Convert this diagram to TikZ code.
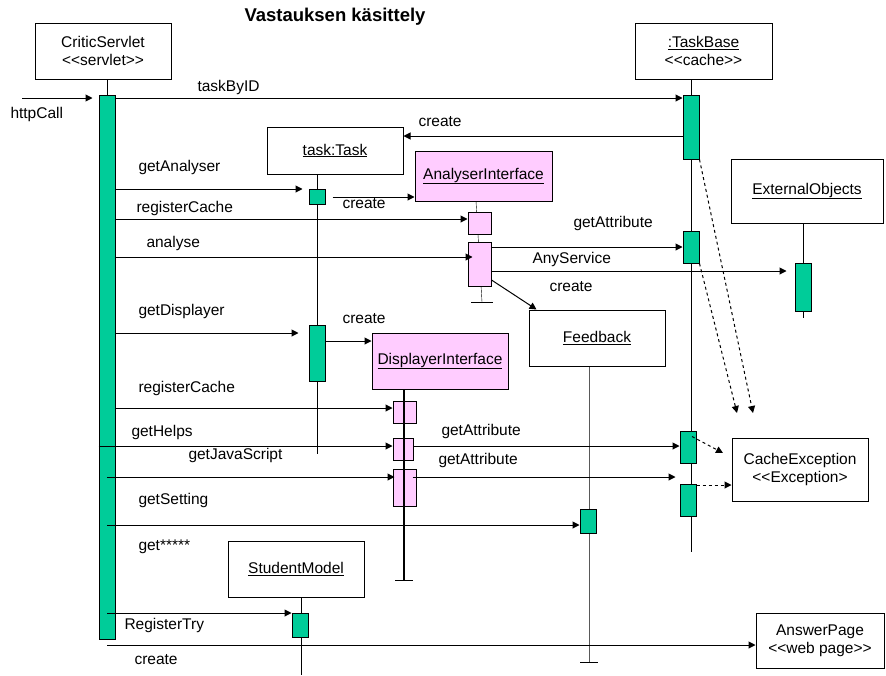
\documentclass[tikz,border=0pt]{standalone}
\usepackage{fontspec}
\setmainfont{Liberation Sans}
\usetikzlibrary{arrows.meta}
\usetikzlibrary{positioning}
\usetikzlibrary{backgrounds}
\definecolor{actgreen}{RGB}{0,204,153}
\definecolor{ifacepink}{RGB}{255,204,255}
\newcommand{\ltch}{\mbox{<}}
\newcommand{\gtch}{\mbox{>}}

\begin{document}
\begin{tikzpicture}[x=1pt, y=-1pt, line width=1pt,
  every node/.style={font=\fontsize{15.5}{18}\selectfont},
  obj/.style={draw, fill=white, align=center, inner sep=0pt, minimum width=136pt, minimum height=56pt},
  iface/.style={obj, fill=ifacepink},
  act/.style={draw, fill=actgreen, inner sep=0pt, minimum width=16pt},
  iact/.style={draw, fill=ifacepink, inner sep=0pt, minimum width=23pt},
  msg/.style={-{Triangle[length=7pt,width=7pt]}},
  ret/.style={msg, dash pattern=on 3pt off 3pt},
  lbl/.style={anchor=base west, inner sep=0pt}]
  \useasboundingbox (0,0) rectangle (886,675);

  % title
  \node[font=\fontsize{18.5}{20}\selectfont\bfseries] (title) at (335,17) {Vastauksen käsittely};

  % objects
  \node[obj] (cs) at (103,51) {CriticServlet\\\ltch\ltch servlet\gtch\gtch};
  \node[obj, minimum width=137pt] (tb) at (703.5,51) {\underline{:TaskBase}\\\ltch\ltch cache\gtch\gtch};
  \node[obj, minimum height=47pt] (task) at (335,150.5) {\underline{task:Task}};
  \node[iface, minimum width=137pt, minimum height=50pt] (ai) at (483.5,176) {\underline{AnalyserInterface}};
  \node[obj, minimum width=152pt, minimum height=64pt] (eo) at (807,191) {\underline{ExternalObjects}};
  \node[obj] (fb) at (597,338) {\underline{Feedback}};
  \node[iface] (di) at (440,361) {\underline{DisplayerInterface}};
  \node[obj] (sm) at (296,569) {\underline{StudentModel}};
  \node[obj, minimum width=128pt, minimum height=55pt] (ap) at (820,640.5) {AnswerPage\\\ltch\ltch web page\gtch\gtch};
  \node[obj, minimum height=63pt] (ce) at (800,469.5) {CacheException\\\ltch\ltch Exception\gtch};

  % activations
  \node[act, minimum height=544pt] (csbar) at (107,367) {};
  \node[act, minimum height=64pt] (tb1) at (691,127) {};
  \node[act, minimum height=32pt] (tb2) at (691,247) {};
  \node[act, minimum height=32pt] (tb3) at (688,447) {};
  \node[act, minimum height=32pt] (tb4) at (688,500) {};
  \node[act, minimum height=15pt] (tt1) at (317,196.5) {};
  \node[act, minimum height=56pt] (tt2) at (317,353) {};
  \node[iact, minimum height=22pt] (ai1) at (479.5,223) {};
  \node[iact, minimum height=44pt] (ai2) at (479.5,264) {};
  \node[act, minimum height=48pt] (eo1) at (803,287) {};
  \node[act, minimum height=24pt] (fb1) at (588,521) {};
  \node[iact, minimum height=22pt] (di1) at (404.5,412) {};
  \node[iact, minimum height=22pt, minimum width=20pt] (di2) at (403,449) {};
  \node[iact, minimum height=37pt] (di3) at (404.5,487.5) {};
  \node[act, minimum height=24pt] (sm1) at (300,625) {};

  % lifeline ends
  \coordinate (tbend) at (691,552);
  \coordinate (taskend) at (317,454);
  \coordinate (aiend) at (482,302);
  \coordinate (eoend) at (803,318);
  \coordinate (fbend) at (589,662);
  \coordinate (diend) at (404,580);
  \coordinate (smend) at (301,675);

  \begin{scope}[on background layer]
    \draw (cs.south -| csbar) -- (csbar.north);
    \draw (tb.south -| tbend) -- (tbend);
    \draw (task.south -| taskend) -- (taskend);
    \draw (476,201) -- (aiend);
    \draw ([xshift=-11pt]aiend) -- ([xshift=11pt]aiend);
    \draw (eo.south -| eoend) -- (eoend);
    \draw[gray!70!black] (fb.south -| fbend) -- (fbend);
    \draw ([xshift=-9pt]fbend) -- ([xshift=9pt]fbend);
    \draw (sm.south -| smend) -- (smend);
  \end{scope}
  \draw[line width=2pt] (di.south -| diend) -- (diend);
  \draw ([xshift=-9pt]diend) -- ([xshift=9pt]diend);

  % messages
  \coordinate (caller) at (22,98);
  \draw[msg] (caller) -- ([xshift=-6pt]csbar.west |- caller);
  \node[lbl] (httpcall) at (10,118) {httpCall};
  \draw[msg] (csbar.east |- 0,98) -- (tb1.west |- 0,98);
  \node[lbl] (taskbyid) at (197,91) {taskByID};
  \draw[msg] (tb1.west |- 0,136) -- (task.east |- 0,136);
  \node[lbl] (create1) at (418,126) {create};
  \draw[msg] (csbar.east |- 0,189) -- ([xshift=-6pt]tt1.west |- 0,189);
  \node[lbl] (getanalyser) at (138,171) {getAnalyser};
  \draw[msg] ([xshift=7pt]tt1.east |- 0,197) -- (ai.west |- 0,197);
  \node[lbl] (create2) at (342,208) {create};
  \draw[msg] (csbar.east |- 0,219) -- (ai1.west |- 0,219);
  \node[lbl] (regcache1) at (136,212) {registerCache};
  \draw[msg] (csbar.east |- 0,257) -- ([xshift=5pt]ai2.west |- 0,257);
  \node[lbl] (analyse) at (146,247) {analyse};
  \draw[msg] (ai2.east |- 0,247) -- (tb2.west |- 0,247);
  \node[lbl] (getattr1) at (573,227) {getAttribute};
  \draw[msg] (ai2.east |- 0,271) -- ([xshift=-8pt]eo1.west |- 0,271);
  \node[lbl] (anyservice) at (532,263) {AnyService};
  \draw[msg] (ai2.east |- 0,280) -- ([xshift=8pt]fb.north west);
  \node[lbl] (create3) at (549,291) {create};
  \draw[msg] (csbar.east |- 0,333) -- ([xshift=-10pt]tt2.west |- 0,333);
  \node[lbl] (getdisplayer) at (138,315) {getDisplayer};
  \draw[msg] (tt2.east |- 0,341) -- (di.west |- 0,341);
  \node[lbl] (create4) at (342,323) {create};
  \draw[msg] (csbar.east |- 0,408) -- (di1.west |- 0,408);
  \node[lbl] (regcache2) at (138,392) {registerCache};
  \draw[msg] (csbar.west |- 0,446) -- (di2.west |- 0,446);
  \node[lbl] (gethelps) at (131,436) {getHelps};
  \draw[msg] (csbar |- 0,477) -- ([xshift=2pt]di3.west |- 0,477);
  \node[lbl] (getjs) at (188,459) {getJavaScript};
  \draw[msg] (di2.east |- 0,446) -- (tb3.west |- 0,446);
  \node[lbl] (getattr2) at (441,435) {getAttribute};
  \draw[msg] ([xshift=-4pt]di3.east |- 0,477) -- ([xshift=-4pt]tb3.west |- 0,477);
  \node[lbl] (getattr3) at (438,464) {getAttribute};
  \draw[msg] (csbar |- 0,525) -- (fb1.west |- 0,525);
  \node[lbl] (getsetting) at (138,504) {getSetting};
  \node[lbl] (getstar) at (138,550) {get*****};
  \draw[msg] (csbar |- 0,613) -- (sm1.west |- 0,613);
  \node[lbl] (registertry) at (124,629) {RegisterTry};
  \draw[msg] (csbar |- 0,645) -- (ap.west |- 0,645);
  \node[lbl] (create5) at (134,664) {create};

  % exceptions
  \coordinate (exc1) at (753,413);
  \coordinate (exc2) at (737,413);
  \coordinate (exc3) at (723,453);
  \draw[ret] (tb1.south east) -- (exc1);
  \draw[ret] (tb2.south east) -- (exc2);
  \draw[ret] ([xshift=4pt,yshift=-6pt]tb3.north) -- (exc3);
  \draw[ret] (tb4.east |- 0,485) -- (ce.west |- 0,485);
\end{tikzpicture}
\end{document}
